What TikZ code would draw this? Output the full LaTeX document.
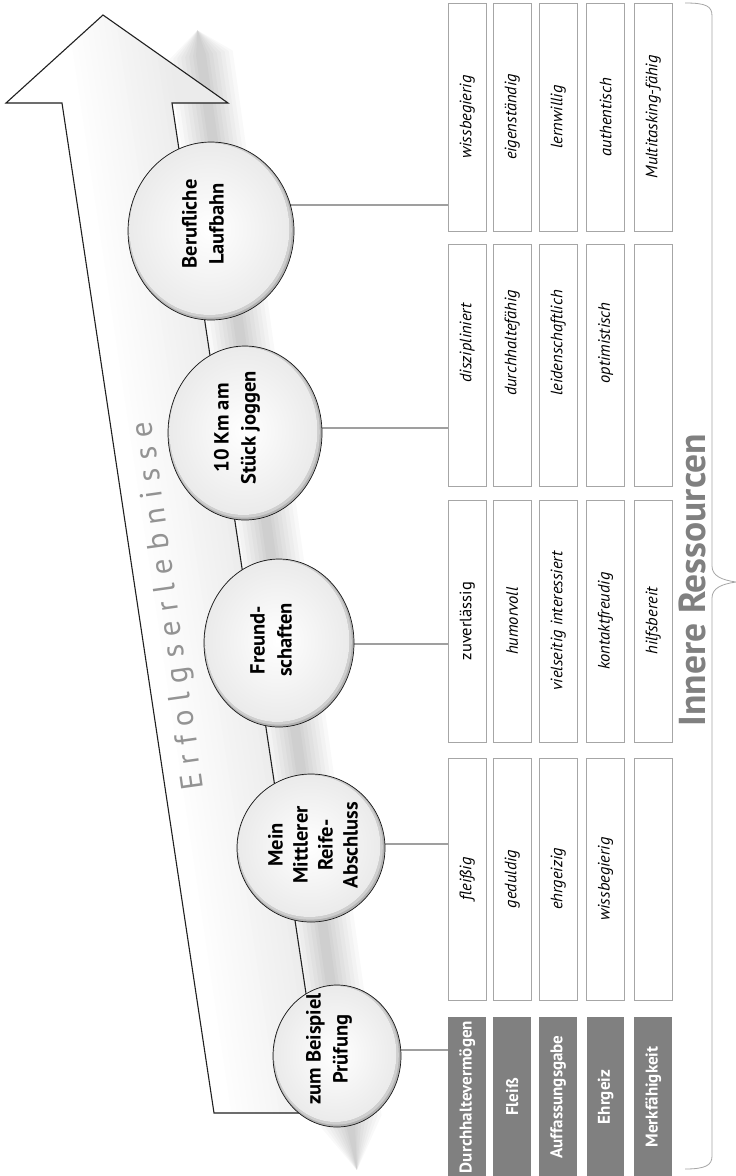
\documentclass[tikz,border=0pt]{standalone}
\usepackage{fontspec}
\setmainfont{PT Sans}
\usetikzlibrary{shapes.geometric,calc}
\begin{document}
\begin{tikzpicture}[x=1pt,y=-1pt,
  cell/.style={draw=gray!70, line width=0.9pt, fill=white, rotate=90, inner sep=0pt,
    minimum height=37.7pt, font=\fontsize{16.5}{18}\selectfont\itshape},
  head/.style={fill=gray, rotate=90, inner sep=0pt, minimum height=37.7pt,
    text=white, font=\fontsize{17}{18}\selectfont\bfseries},
  conn/.style={draw=gray!75, line width=1.8pt},
  bubble/.style 2 args={ellipse, draw=gray!20!black, line width=0.7pt, fill=gray!60,
    inner sep=0pt, minimum width=2*#1, minimum height=2*#2,
    path picture={
      \fill[gray!38] ([xshift=-0.8pt,yshift=1pt]path picture bounding box.center)
        ellipse [x radius=#1-1.4, y radius=#2-1.4];
      \fill[inner color=white, outer color=gray!16] ([xshift=-1.6pt,yshift=2pt]path picture bounding box.center)
        ellipse [x radius=#1-3, y radius=#2-3];
    }},
  bubtext/.style={rotate=90, align=center, inner sep=0pt, font=\fontsize{20.5}{27}\selectfont\bfseries},
]
\useasboundingbox (0,0) rectangle (736,1176);
\fill[white] (0,0) rectangle (736,1176);

% shadow band of the arrow
\begin{scope}[shift={(201,55)}, rotate=7.96]
  \foreach \w in {32,28,24,20,16,12,8,5} {
    \fill[black, opacity=0.024] (0,-25) -- (\w,0) -- (\w,1075) -- (0,1126) -- (-\w,1075) -- (-\w,0) -- cycle;
  }
\end{scope}

% arrow fill (gradient along the shaft)
\begin{scope}
  \clip (103,15) -- (228,103) -- (172,103) -- (324,1113) -- (214,1113) -- (62,103) -- (6,103) -- cycle;
  \foreach \d in {-240,-234,...,186} {
    \pgfmathsetmacro\p{max(0,min(16,(\d-10)*0.15))}
    \fill[gray!\p] (46.5+\d,-5) -- (53.1+\d,-5) -- (230.1+\d,1180) -- (223.5+\d,1180) -- cycle;
  }
\end{scope}
\draw[gray!25!black, line width=1.1pt, line join=miter]
  (103,15) -- (228,103) -- (172,103) -- (324,1113) -- (214,1113) -- (62,103) -- (6,103) -- cycle;

\node[rotate=98, text=gray!85, inner sep=0pt,
  font=\fontsize{31}{36}\selectfont\addfontfeatures{LetterSpace=29}] (erf) at (170,606) {Erfolgserlebnisse};

% circle centres and connector ends
\coordinate (c5) at (211,231);
\coordinate (c4) at (245,433);
\coordinate (c3) at (279,643);
\coordinate (c2) at (311,848);
\coordinate (c1) at (337,1056);
\coordinate (k5) at (448,205);
\coordinate (k4) at (448,428);
\coordinate (k3) at (448,644);
\coordinate (k2) at (448,844);
\coordinate (k1) at (448,1050);
\foreach \i in {1,...,5} { \draw[conn] (k\i) -- (k\i -| c\i); }

% circles
\node[bubble={83}{89}] (e5) at (c5) {};
\node[bubble={77}{87}] (e4) at (c4) {};
\node[bubble={75}{84}] (e3) at (c3) {};
\node[bubble={74}{74}] (e2) at (c2) {};
\node[bubble={64}{71}] (e1) at (c1) {};
\node[bubtext] (t5) at (203,224) {Berufliche\\Laufbahn};
\node[bubtext] (t4) at (237,428) {10 Km am\\Stück joggen};
\node[bubtext] (t3) at (271,640) {Freund-\\schaften};
\node[bubtext, font=\fontsize{20.5}{25}\selectfont\bfseries] (t2) at (313,845) {Mein\\Mittlerer\\Reife-\\Abschluss};
\node[bubtext] (t1) at (329,1049) {zum Beispiel\\Prüfung};

% table: section 5
\node[cell, minimum width=228] (s5a) at (467.2,117) {wissbegierig};
\node[cell, minimum width=228] (s5b) at (512.2,117) {eigenständig};
\node[cell, minimum width=228] (s5c) at (558.2,117) {lernwillig};
\node[cell, minimum width=228] (s5d) at (605.6,117) {authentisch};
\node[cell, minimum width=228] (s5e) at (653.2,117) {Multitasking-fähig};
% section 4
\node[cell, minimum width=242] (s4a) at (467.2,365) {\hspace*{44pt}diszipliniert};
\node[cell, minimum width=242] (s4b) at (512.2,365) {\hspace*{44pt}durchhaltefähig};
\node[cell, minimum width=242] (s4c) at (558.2,365) {\hspace*{44pt}leidenschaftlich};
\node[cell, minimum width=242] (s4d) at (605.6,365) {\hspace*{44pt}optimistisch};
\node[cell, minimum width=242] (s4e) at (653.2,365) {};
% section 3
\node[cell, minimum width=242] (s3a) at (467.2,621) {\upshape zuverlässig};
\node[cell, minimum width=242] (s3b) at (512.2,621) {humorvoll};
\node[cell, minimum width=242] (s3c) at (558.2,621) {vielseitig interessiert};
\node[cell, minimum width=242] (s3d) at (605.6,621) {kontaktfreudig};
\node[cell, minimum width=242] (s3e) at (653.2,621) {hilfsbereit};
% section 2
\node[cell, minimum width=242] (s2a) at (467.2,879) {fleißig};
\node[cell, minimum width=242] (s2b) at (512.2,879) {geduldig};
\node[cell, minimum width=242] (s2c) at (558.2,879) {ehrgeizig};
\node[cell, minimum width=242] (s2d) at (605.6,879) {wissbegierig};
\node[cell, minimum width=242] (s2e) at (653.2,879) {};
% headers
\node[head, minimum width=160] (h1) at (467.2,1097) {Durchhaltevermögen};
\node[head, minimum width=160] (h2) at (512.2,1097) {Fleiß};
\node[head, minimum width=160] (h3) at (558.2,1097) {Auffassungsgabe};
\node[head, minimum width=160] (h4) at (605.6,1097) {Ehrgeiz};
\node[head, minimum width=160] (h5) at (653.2,1097) {Merkfähigkeit};

% brace and title
\draw[gray!70, line width=0.8pt] (685,3) .. controls (706,3) and (712,6) .. (712,16) -- (712,566)
  .. controls (712,576) and (722,580) .. (736,582) .. controls (722,584) and (712,588) .. (712,598)
  -- (712,1156) .. controls (712,1165) and (706,1169) .. (685,1169);
\node[rotate=90, text=gray, inner sep=0pt, font=\fontsize{37.5}{40}\selectfont\bfseries] (inr) at (692,580) {Innere Ressourcen};
\end{tikzpicture}
\end{document}
